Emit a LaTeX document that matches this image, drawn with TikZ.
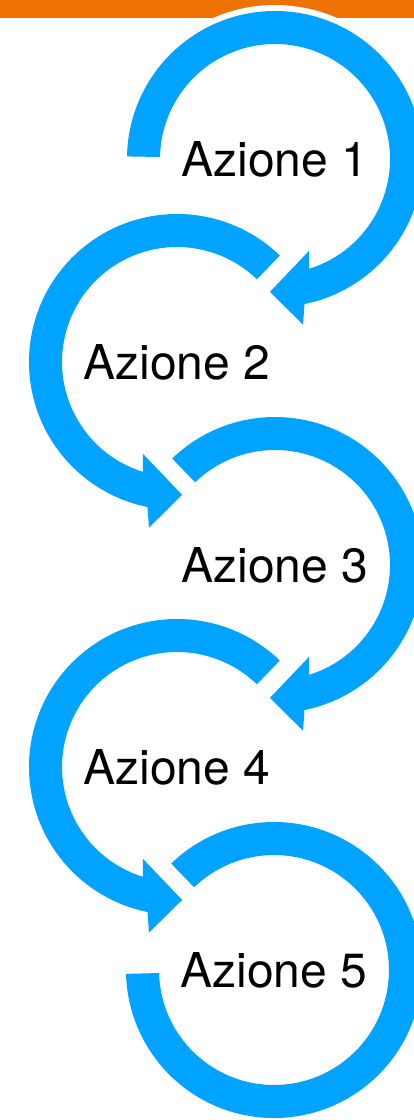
\documentclass[tikz,border=0pt]{standalone}
\usepackage{fontspec}
\setmainfont{TeX Gyre Heros}
\definecolor{arcblue}{HTML}{00A3FF}
\definecolor{barorange}{HTML}{EE7203}
\newcommand{\blueArrow}[1]{%
  \path[draw=white, line width=12pt, line join=miter]
    (#1:148) arc[start angle=#1, end angle=-78.5, radius=148]
    -- (-80.4:168) -- (-92.2:133) -- (-69.7:98) -- (-72.7:115)
    arc[start angle=-72.7, end angle=#1, radius=115] -- cycle;
  \path[fill=arcblue]
    (#1:148) arc[start angle=#1, end angle=-78.5, radius=148]
    -- (-80.4:168) -- (-92.2:133) -- (-69.7:98) -- (-72.7:115)
    arc[start angle=-72.7, end angle=#1, radius=115] -- cycle;}
\tikzset{label text/.style={inner sep=0pt, font=\fontsize{48}{58}\selectfont, text=black}}
\begin{document}
\begin{tikzpicture}[x=1pt, y=1pt]
  \clip (0,0) rectangle (414,-1120);
  \fill[white] (0,0) rectangle (414,-1120);
  \fill[barorange] (0,0) rectangle (414,-18);
  \begin{scope}[shift={(275,-159)}] \blueArrow{179} \end{scope}
  \begin{scope}[shift={(177,-362)}, xscale=-1] \blueArrow{134} \end{scope}
  \begin{scope}[shift={(275,-565)}] \blueArrow{134} \end{scope}
  \begin{scope}[shift={(177,-767)}, xscale=-1] \blueArrow{134} \end{scope}
  \begin{scope}[shift={(274,-970)}]
    \path[draw=white, line width=12pt]
      (134:148) arc[start angle=134, end angle=-178.5, radius=148]
      -- (-178.5:115) arc[start angle=-178.5, end angle=134, radius=115] -- cycle;
    \path[fill=arcblue]
      (134:148) arc[start angle=134, end angle=-178.5, radius=148]
      -- (-178.5:115) arc[start angle=-178.5, end angle=134, radius=115] -- cycle;
  \end{scope}
  \node[label text] (a1) at (275,-159) {Azione 1};
  \node[label text] (a2) at (177,-362) {Azione 2};
  \node[label text] (a3) at (275,-565) {Azione 3};
  \node[label text] (a4) at (177,-767) {Azione 4};
  \node[label text] (a5) at (274,-970) {Azione 5};
\end{tikzpicture}
\end{document}
